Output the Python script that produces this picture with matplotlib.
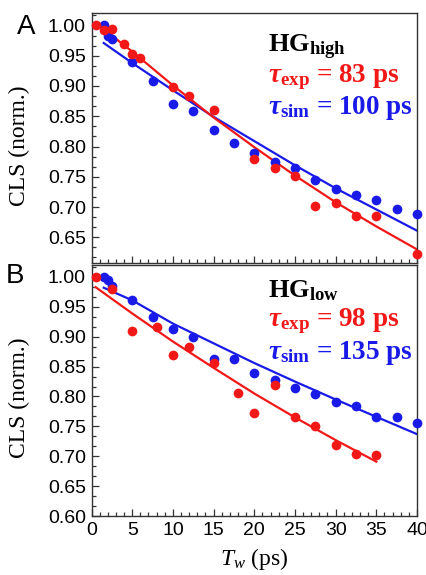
import matplotlib
matplotlib.use("Agg")
import matplotlib.pyplot as plt
from matplotlib.ticker import MultipleLocator, AutoMinorLocator

plt.rcParams['font.family'] = ['Liberation Sans', 'DejaVu Sans']
plt.rcParams['mathtext.fontset'] = 'custom'
plt.rcParams['mathtext.rm'] = 'Liberation Serif'
plt.rcParams['mathtext.it'] = 'Liberation Serif:italic'
plt.rcParams['mathtext.bf'] = 'Liberation Serif:bold'
plt.rcParams['mathtext.bfit'] = 'Liberation Serif:italic:bold'

RED = '#f21818'
BLUE = '#1a1ae8'

# panel A: HG high
a_exp_t = [0.5, 1.5, 2.5, 4, 5, 6, 10, 12, 15, 20, 22.5, 25, 27.5, 30, 32.5, 35, 40]
a_exp_v = [1.000, 0.993, 0.994, 0.969, 0.953, 0.947, 0.899, 0.884, 0.861, 0.780,
           0.764, 0.752, 0.702, 0.707, 0.686, 0.686, 0.622]
a_sim_t = [1.5, 2, 2.5, 5, 7.5, 10, 12.5, 15, 17.5, 20, 22.5, 25, 27.5, 30, 32.5, 35, 37.5, 40]
a_sim_v = [1.000, 0.982, 0.977, 0.939, 0.909, 0.870, 0.859, 0.828, 0.806, 0.789,
           0.774, 0.764, 0.744, 0.730, 0.720, 0.711, 0.696, 0.688]
a_fit_exp_t = [0.5, 5, 10, 15, 20, 25, 30, 35, 40]
a_fit_exp_v = [1.004, 0.957, 0.901, 0.848, 0.799, 0.752, 0.708, 0.668, 0.630]
a_fit_sim_t = [1.5, 5, 10, 15, 20, 25, 30, 35, 40]
a_fit_sim_v = [0.971, 0.938, 0.893, 0.849, 0.809, 0.769, 0.731, 0.696, 0.661]

# panel B: HG low
b_exp_t = [0.5, 2.5, 5, 8, 10, 12, 15, 18, 20, 22.5, 25, 27.5, 30, 32.5, 35]
b_exp_v = [1.000, 0.980, 0.909, 0.917, 0.870, 0.883, 0.856, 0.806, 0.772, 0.819,
           0.765, 0.751, 0.719, 0.704, 0.702]
b_sim_t = [1.5, 2, 2.5, 5, 7.5, 10, 12.5, 15, 17.5, 20, 22.5, 25, 27.5, 30, 32.5, 35, 37.5, 40]
b_sim_v = [1.000, 0.995, 0.985, 0.961, 0.933, 0.913, 0.900, 0.863, 0.862, 0.839,
           0.827, 0.815, 0.804, 0.791, 0.784, 0.765, 0.765, 0.755]
b_fit_exp_t = [0.5, 5, 10, 15, 20, 25, 30, 35]
b_fit_exp_v = [0.983, 0.939, 0.892, 0.848, 0.805, 0.765, 0.727, 0.691]
b_fit_sim_t = [1.5, 5, 10, 15, 20, 25, 30, 35, 40]
b_fit_sim_v = [0.982, 0.961, 0.922, 0.889, 0.856, 0.825, 0.795, 0.766, 0.737]

fig = plt.figure(figsize=(4.27, 5.75), dpi=100)
ax1 = fig.add_axes([0.2143, 0.5420, 0.7623, 0.4348])
ax2 = fig.add_axes([0.2143, 0.1026, 0.7623, 0.4365])

panels = [
    (ax1, a_exp_t, a_exp_v, a_sim_t, a_sim_v, a_fit_exp_t, a_fit_exp_v, a_fit_sim_t, a_fit_sim_v,
     (0.607, 1.02), [1.00, 0.95, 0.90, 0.85, 0.80, 0.75, 0.70, 0.65], 'high', '83', '100',
     (0.921, 0.745, 0.621)),
    (ax2, b_exp_t, b_exp_v, b_sim_t, b_sim_v, b_fit_exp_t, b_fit_exp_v, b_fit_sim_t, b_fit_sim_v,
     (0.60, 1.02), [1.00, 0.95, 0.90, 0.85, 0.80, 0.75, 0.70, 0.65, 0.60], 'low', '98', '135',
     (0.948, 0.775, 0.649)),
]

for (ax, et, ev, st, sv, fet, fev, fst, fsv, ylim, yticks, sub, tau_e, tau_s, ty) in panels:
    ax.plot(fst, fsv, color=BLUE, lw=1.6, zorder=2)
    ax.plot(fet, fev, color=RED, lw=1.6, zorder=2)
    ax.plot(st, sv, 'o', color=BLUE, ms=7, mec='none', zorder=3, clip_on=False)
    ax.plot(et, ev, 'o', color=RED, ms=7, mec='none', zorder=4, clip_on=False)

    ax.set_xlim(0, 40)
    ax.set_ylim(*ylim)
    ax.set_yticks(yticks)
    ax.set_yticklabels(['%.2f' % y for y in yticks])
    ax.xaxis.set_major_locator(MultipleLocator(5))
    ax.xaxis.set_minor_locator(AutoMinorLocator(5))
    ax.yaxis.set_minor_locator(AutoMinorLocator(3))
    ax.tick_params(which='both', direction='in', top=False, right=False,
                   labelsize=14, width=0.9, color='#333333', pad=4)
    ax.tick_params(which='major', length=5)
    ax.tick_params(which='minor', length=3)
    for s in ax.spines.values():
        s.set_linewidth(1.0)
        s.set_color('#333333')

    ax.set_ylabel('CLS (norm.)', family='Liberation Serif', fontsize=17)
    ax.yaxis.set_label_coords(-0.19, 0.47)

    ax.text(0.542, ty[0], r'HG$_{\mathbf{%s}}$' % sub, transform=ax.transAxes,
            family='Liberation Serif', fontweight='bold', fontsize=19, va='top', ha='left')
    ax.text(0.542, ty[1], r'$\mathbfit{\tau}_{\mathbf{exp}}$ = %s ps' % tau_e, transform=ax.transAxes,
            family='Liberation Serif', fontweight='bold', fontsize=19.5, color=RED, va='center', ha='left')
    ax.text(0.542, ty[2], r'$\mathbfit{\tau}_{\mathbf{sim}}$ = %s ps' % tau_s, transform=ax.transAxes,
            family='Liberation Serif', fontweight='bold', fontsize=19.5, color=BLUE, va='center', ha='left')

ax1.tick_params(labelbottom=False)
ax2.set_xlabel(r'$T_w$ (ps)', family='Liberation Serif', fontsize=17)
ax2.xaxis.set_label_coords(0.5, -0.118)

fig.text(0.061, 0.953, 'A', fontsize=20, va='center', ha='center')
fig.text(0.034, 0.520, 'B', fontsize=20, va='center', ha='center')

fig.savefig('out.png', dpi=100)
